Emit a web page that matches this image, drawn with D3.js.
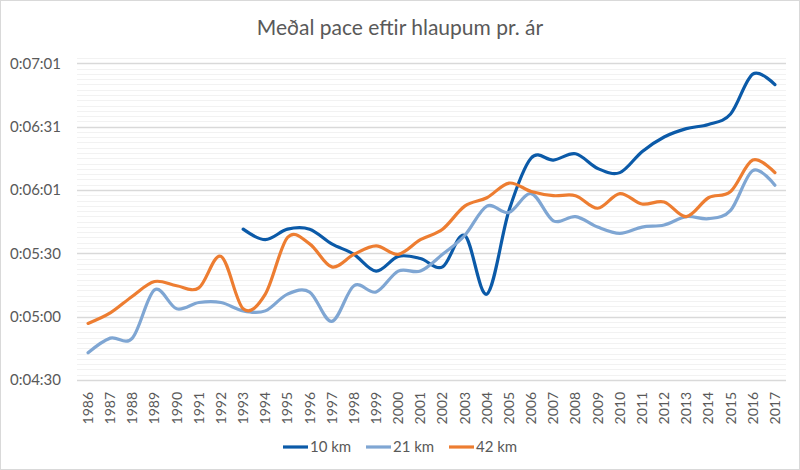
<!DOCTYPE html>
<html>
<head>
<meta charset="utf-8">
<script src="https://cdn.jsdelivr.net/npm/d3@7"></script>
<style>
  body { margin: 0; background: #fff; }
  text { font-family: Lato, "Open Sans", sans-serif; fill: #595959; }
</style>
</head>
<body>
<script>
// pace in seconds per km, null = no race that year
var years = d3.range(1986, 2018).map(String);
var km10 = [null, null, null, null, null, null, null, 342, 337, 342, 342, 335, 330, 322, 329, 328,
            324, 339, 311, 351, 376, 375, 378, 371, 369, 379, 386, 390, 392, 397, 416, 411];
var km21 = [283, 290, 290, 313, 304, 307, 307, 303, 303, 311, 312, 298, 315, 312, 322, 322,
            330, 339, 353, 350, 359, 346, 348, 343, 340, 343, 344, 348, 347, 351, 370, 363];
var km42 = [297, 302, 310, 317, 315, 314, 329, 304, 311, 338, 335, 324, 330, 334, 330, 337,
            342, 353, 357, 364, 360, 358, 358, 352, 359, 354, 355, 348, 357, 360, 375, 369];

var seriesNames = ["10 km", "21 km", "42 km"];
var seriesColors = ["#0b5aa8", "#7fa6d3", "#ed7d31"];

// excel axis: min 4:30, major unit 30.24 s, minor unit 2.52 s
var yMin = 270, majorUnit = 30.24, minorUnit = 2.52;
var yMax = yMin + 5 * majorUnit + minorUnit;

function draw_chart(width, height) {
  var svg = d3.select("body").append("svg")
    .attr("width", width)
    .attr("height", height);

  svg.append("rect")
    .attr("x", 0.5).attr("y", 0.5)
    .attr("width", width - 1).attr("height", height - 1)
    .attr("fill", "#fff")
    .attr("stroke", "#d9d9d9");

  var left = 77, right = 786, top = 58, bottom = 380;

  var x = d3.scaleBand().domain(years).range([left, right]);
  var y = d3.scaleLinear().domain([yMin, yMax]).range([bottom, top]);

  var minor = d3.range(0, 62).map(function(i) { return yMin + i * minorUnit; });
  var major = d3.range(0, 6).map(function(i) { return yMin + i * majorUnit; });

  svg.append("g").selectAll("line")
    .data(minor.filter(function(v, i) { return i % 12 != 0; }))
    .enter().append("line")
      .attr("x1", left).attr("x2", right)
      .attr("y1", function(d) { return Math.round(y(d)) + 0.5; })
      .attr("y2", function(d) { return Math.round(y(d)) + 0.5; })
      .attr("stroke", "#f2f2f2");

  svg.append("g").selectAll("line")
    .data(major)
    .enter().append("line")
      .attr("x1", left).attr("x2", right)
      .attr("y1", function(d) { return Math.round(y(d)) + 0.5; })
      .attr("y2", function(d) { return Math.round(y(d)) + 0.5; })
      .attr("stroke", "#d9d9d9")
      .attr("stroke-width", 1.3);

  function fmt(s) {
    s = Math.round(s);
    var m = Math.floor(s / 60), r = s % 60;
    return "0:" + (m < 10 ? "0" : "") + m + ":" + (r < 10 ? "0" : "") + r;
  }

  var yAxis = d3.axisLeft(y).tickValues(major).tickFormat(fmt).tickSize(0).tickPadding(0);
  var gy = svg.append("g")
    .attr("transform", "translate(61,0)")
    .call(yAxis);
  gy.select(".domain").remove();
  gy.selectAll("text").attr("font-size", 15).attr("fill", "#595959");

  var xAxis = d3.axisBottom(x).tickSize(0).tickPadding(0);
  var gx = svg.append("g")
    .attr("transform", "translate(0," + bottom + ")")
    .call(xAxis);
  gx.select(".domain").remove();
  gx.selectAll("text")
    .attr("font-size", 14)
    .attr("fill", "#595959")
    .attr("transform", "rotate(-90)")
    .attr("text-anchor", "end")
    .attr("x", -12)
    .attr("y", 0)
    .attr("dy", "0.35em");

  var line = d3.line()
    .defined(function(d) { return d != null; })
    .x(function(d, i) { return x(years[i]) + x.bandwidth() / 2; })
    .y(function(d) { return y(d); })
    .curve(d3.curveCardinal.tension(0));

  [km10, km21, km42].forEach(function(s, k) {
    svg.append("path")
      .datum(s)
      .attr("d", line)
      .attr("fill", "none")
      .attr("stroke", seriesColors[k])
      .attr("stroke-width", 3.2)
      .attr("stroke-linecap", "round")
      .attr("stroke-linejoin", "round");
  });

  svg.append("text")
    .attr("x", 400).attr("y", 35)
    .attr("text-anchor", "middle")
    .attr("font-size", 21)
    .text("Meðal pace eftir hlaupum pr. ár");

  var legend = svg.append("g").selectAll("g")
    .data(seriesNames)
    .enter().append("g")
      .attr("transform", function(d, i) { return "translate(" + (283 + i * 83) + ",447)"; });
  legend.append("line")
    .attr("x1", 0).attr("x2", 25)
    .attr("stroke", function(d, i) { return seriesColors[i]; })
    .attr("stroke-width", 3.2);
  legend.append("text")
    .attr("x", 27).attr("dy", "0.35em")
    .attr("font-size", 15)
    .text(function(d) { return d; });
}

draw_chart(800, 470);
</script>
</body>
</html>
